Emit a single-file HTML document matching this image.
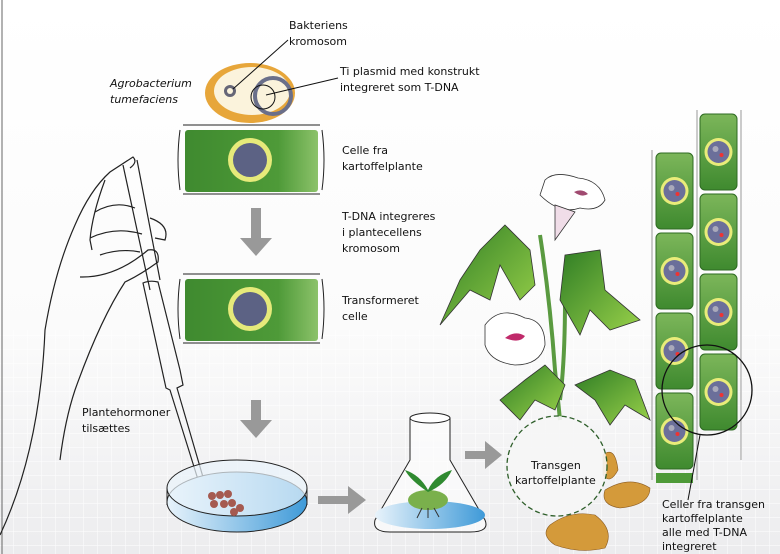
<!DOCTYPE html>
<html><head><meta charset="utf-8"><style>
html,body{margin:0;padding:0;background:#fff}
svg{display:block}
text{font-family:"DejaVu Sans","Liberation Sans",sans-serif;font-size:11px;fill:#111}
</style></head><body>
<svg width="780" height="554" viewBox="0 0 780 554" xmlns="http://www.w3.org/2000/svg">
<defs>
<linearGradient id="bg" x1="0" y1="0" x2="0" y2="1">
<stop offset="0" stop-color="#fff"/><stop offset="0.6" stop-color="#fbfbfb"/><stop offset="1" stop-color="#ececee"/></linearGradient>
<pattern id="grid" width="14" height="14" patternUnits="userSpaceOnUse"><path d="M14 0V14M0 14H14" stroke="#fff" stroke-width="1.2" fill="none"/></pattern>
<linearGradient id="cell" x1="0" y1="0" x2="1" y2="0"><stop offset="0" stop-color="#3f8a2f"/><stop offset="0.7" stop-color="#4e9a38"/><stop offset="1" stop-color="#8cc26a"/></linearGradient>
<linearGradient id="cellv" x1="0" y1="0" x2="0" y2="1"><stop offset="0" stop-color="#7cb65a"/><stop offset="1" stop-color="#3f8a2f"/></linearGradient>
<linearGradient id="leaf" x1="0" y1="0" x2="1" y2="1"><stop offset="0" stop-color="#2f7d25"/><stop offset="1" stop-color="#9ad24a"/></linearGradient>
<linearGradient id="dish" x1="0" y1="0" x2="1" y2="0"><stop offset="0" stop-color="#e8f3fb"/><stop offset="1" stop-color="#3f9ad8"/></linearGradient>
<g id="nuc"><circle r="14" fill="#e9ec7a"/><circle r="11" fill="#6b6f9a"/><circle cx="-3" cy="-3" r="3" fill="#aab"/><circle cx="3" cy="3" r="2" fill="#e33"/></g>
<g id="vcell"><rect x="0" y="0" width="37" height="76" rx="5" fill="url(#cellv)" stroke="#2e6a22"/><use href="#nuc" x="18.5" y="38"/></g>
</defs>
<rect width="780" height="554" fill="url(#bg)"/>
<rect y="330" width="780" height="224" fill="url(#grid)" opacity="0.8"/>
<line x1="2" y1="0" x2="2" y2="554" stroke="#666"/>

<!-- hand -->
<g fill="none" stroke="#222" stroke-width="1.2">
<path d="M0 535 Q40 450 45 330 Q55 270 75 225 Q90 190 110 172 L133 157 Q138 162 130 168"/>
<path d="M123 165 L150 290 M137 160 L160 280"/>
<path d="M105 180 Q92 215 90 240 L92 250 M95 212 Q115 200 135 208 M90 238 Q115 226 142 234 M100 255 Q120 248 140 252 M150 218 Q170 225 165 240 L155 238"/>
<path d="M80 277 Q115 278 148 250 Q160 248 158 262 Q140 275 125 282 Q100 320 75 390 Q65 420 60 460"/>
<path d="M143 283 Q150 280 158 282 L180 370 L183 385 L177 388 L205 484 L200 486 L170 390 L166 388 Z"/>
</g>

<!-- bacterium -->
<ellipse cx="250" cy="93" rx="45" ry="30" fill="#e7a63a"/>
<ellipse cx="252" cy="91" rx="38" ry="24" fill="#fbf3dc"/>
<circle cx="230" cy="91" r="6" fill="#667" /><circle cx="230" cy="91" r="3" fill="#fbf3dc"/>
<circle cx="273" cy="96" r="18" fill="none" stroke="#6a6f8a" stroke-width="4"/>
<circle cx="263" cy="97" r="12" fill="none" stroke="#111" stroke-width="1"/>
<line x1="233" y1="89" x2="288" y2="40" stroke="#111"/>
<line x1="266" y1="95" x2="338" y2="78" stroke="#111"/>

<g>
<path d="M183 125 H320 M183 194 H320" stroke="#222"/>
<path d="M180 130 Q176 160 180 190 M322 130 Q326 160 322 190" stroke="#222" fill="none"/>
<rect x="185" y="130" width="133" height="62" rx="3" fill="url(#cell)"/>
<ellipse cx="250" cy="160" rx="22" ry="22" fill="#e6ea7a"/><ellipse cx="250" cy="160" rx="17" ry="17" fill="#5c6284"/>
</g>
<g>
<path d="M183 274 H320 M183 343 H320" stroke="#222"/>
<path d="M180 279 Q176 309 180 339 M322 279 Q326 309 322 339" stroke="#222" fill="none"/>
<rect x="185" y="279" width="133" height="62" rx="3" fill="url(#cell)"/>
<ellipse cx="250" cy="309" rx="22" ry="22" fill="#e6ea7a"/><ellipse cx="250" cy="309" rx="17" ry="17" fill="#5c6284"/>
</g>

<g fill="#999">
<path d="M251 208 H261 V238 H272 L256 256 L240 238 H251Z"/>
<path d="M251 400 H261 V420 H272 L256 438 L240 420 H251Z"/>
<path d="M318 504 V496 H348 V486 L366 500 L348 514 V504Z"/>
<path d="M465 459 V451 H485 V441 L502 455 L485 469 V459Z"/>
</g>

<!-- petri -->
<ellipse cx="237" cy="502" rx="70" ry="30" fill="url(#dish)" stroke="#222"/>
<ellipse cx="237" cy="488" rx="70" ry="28" fill="#e9f4fb" fill-opacity="0.7" stroke="#222"/>
<path d="M167 488 V505 M307 488 V505" stroke="#222"/>
<g fill="#a55a50"><circle cx="212" cy="496" r="4"/><circle cx="220" cy="495" r="4"/><circle cx="228" cy="494" r="4"/><circle cx="214" cy="504" r="4"/><circle cx="224" cy="504" r="4"/><circle cx="234" cy="512" r="4"/><circle cx="240" cy="508" r="4"/><circle cx="232" cy="503" r="4"/></g>

<!-- flask -->
<path d="M410 418 L410 460 L375 520 Q372 532 390 532 L470 532 Q490 532 485 520 L450 460 L450 418" fill="#fff" fill-opacity="0.6" stroke="#222"/>
<ellipse cx="430" cy="418" rx="20" ry="5" fill="#fff" stroke="#222"/>
<ellipse cx="430" cy="515" rx="55" ry="14" fill="url(#dish)"/>
<ellipse cx="428" cy="500" rx="20" ry="10" fill="#7ab04c"/>
<path d="M428 492 Q410 480 405 470 Q420 475 428 490 Q435 475 452 470 Q445 485 428 492Z" fill="#2f8a30"/>
<path d="M422 508 l-5 10 M428 508 v10 M434 508 l5 9" stroke="#333"/>

<!-- plant -->
<g stroke="#333" stroke-width="0.8">
<path d="M540 235 Q550 300 555 370 L560 420" stroke="#5a9a40" stroke-width="4" fill="none"/>
<path d="M565 300 Q565 360 560 400" stroke="#5a9a40" stroke-width="4" fill="none"/>
<path d="M505 225 L530 250 L535 285 L520 300 L500 265 L490 300 L470 290 L440 325 L460 280 L480 250Z" fill="url(#leaf)"/>
<path d="M565 255 L600 250 L605 290 L640 320 L610 330 L590 310 L580 335 L560 300Z" fill="url(#leaf)"/>
<path d="M500 400 L525 380 L545 365 L565 385 L555 410 L535 400 L520 420Z" fill="url(#leaf)"/>
<path d="M575 385 L610 370 L635 380 L650 420 L625 405 L610 425 L595 400Z" fill="url(#leaf)"/>
<path d="M545 180 Q555 170 578 178 Q600 180 605 200 Q598 212 580 208 Q560 215 540 195Z" fill="#fff"/>
<path d="M555 205 L555 240 L575 212Z" fill="#f0dde8"/>
<path d="M485 325 Q500 305 525 318 Q545 320 545 345 Q540 365 515 365 Q490 362 485 345Z" fill="#fff"/>
<path d="M505 338 q10 -8 20 -2 q-5 8 -20 2Z" fill="#c02a6a" stroke="none"/>
<path d="M574 192 q8 -4 14 2 q-6 4 -14 -2Z" fill="#a04a70" stroke="none"/>
</g>

<!-- potatoes -->
<g fill="#d49a3a" stroke="#8a5a20" stroke-width="0.6">
<path d="M603 455 Q615 445 618 470 Q610 485 603 475Z"/>
<path d="M605 490 Q630 475 650 488 Q650 505 620 508 Q600 505 605 490Z"/>
<path d="M550 525 Q570 510 595 515 Q615 530 605 548 Q580 554 555 545 Q540 535 550 525Z"/>
</g>
<circle cx="557" cy="466" r="50" fill="#f6f6f6" fill-opacity="0.9" stroke="#2e5e2a" stroke-width="1.3" stroke-dasharray="5,3"/>

<use href="#vcell" x="656" y="153"/><use href="#vcell" x="656" y="233"/><use href="#vcell" x="656" y="313"/><use href="#vcell" x="656" y="393"/>
<rect x="656" y="473" width="37" height="10" fill="#4e9a38"/>
<use href="#vcell" x="700" y="114"/><use href="#vcell" x="700" y="194"/><use href="#vcell" x="700" y="274"/><use href="#vcell" x="700" y="354"/>
<path d="M652 150 V480 M697 110 V480 M741 110 V460" stroke="#999" fill="none"/>
<circle cx="707" cy="390" r="45" fill="none" stroke="#111" stroke-width="1.3"/>
<line x1="700" y1="435" x2="688" y2="500" stroke="#111"/>

<text x="289" y="29">Bakteriens</text><text x="289" y="45">kromosom</text>
<text x="110" y="87" font-style="italic">Agrobacterium</text><text x="110" y="103" font-style="italic">tumefaciens</text>
<text x="340" y="75">Ti plasmid med konstrukt</text><text x="340" y="91">integreret som T-DNA</text>
<text x="342" y="154">Celle fra</text><text x="342" y="170">kartoffelplante</text>
<text x="342" y="220">T-DNA integreres</text><text x="342" y="236">i plantecellens</text><text x="342" y="252">kromosom</text>
<text x="342" y="304">Transformeret</text><text x="342" y="320">celle</text>
<text x="82" y="416">Plantehormoner</text><text x="82" y="432">tilsættes</text>
<text x="531" y="469">Transgen</text><text x="515" y="484">kartoffelplante</text>
<text x="662" y="508">Celler fra transgen</text><text x="662" y="522">kartoffelplante</text><text x="662" y="536">alle med T-DNA</text><text x="662" y="550">integreret</text>
</svg>
</body></html>
